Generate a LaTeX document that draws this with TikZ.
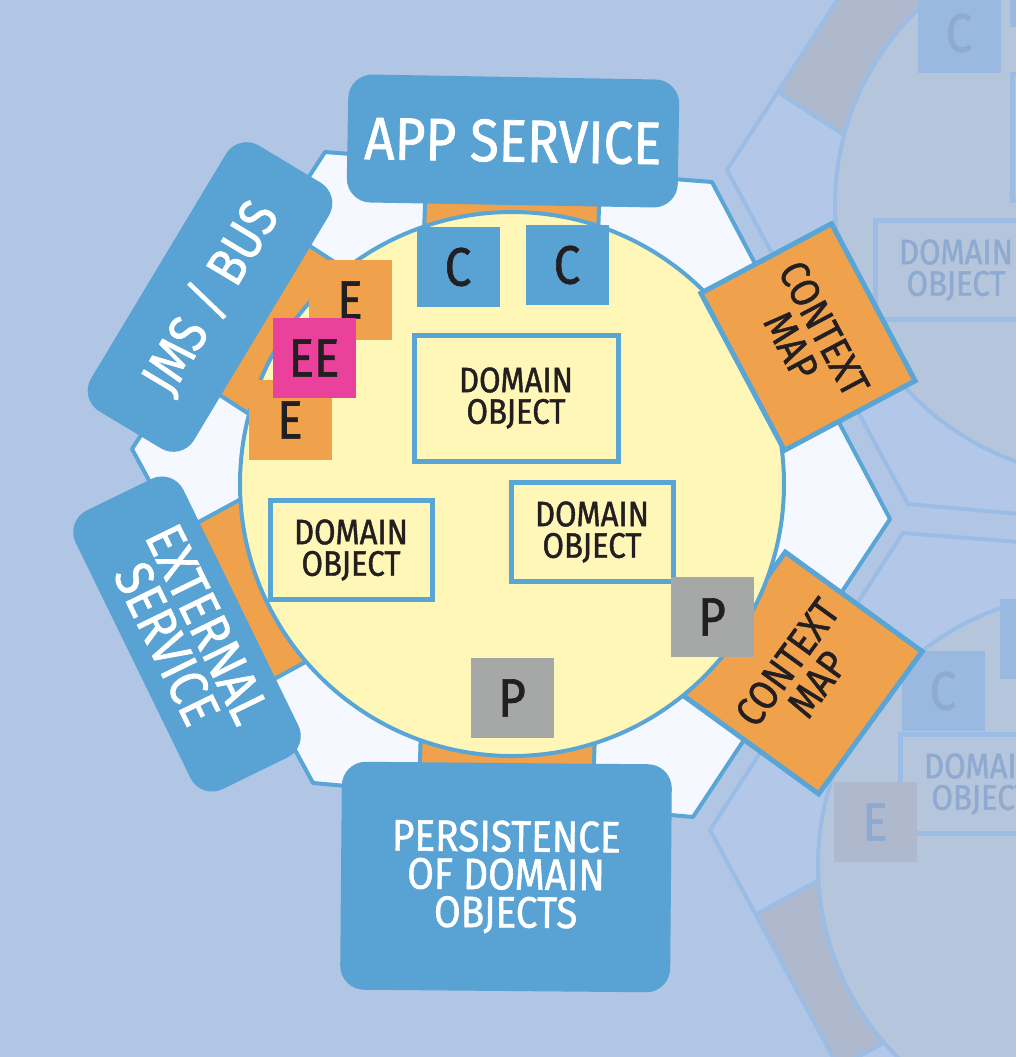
\documentclass[tikz,border=0pt]{standalone}
\usepackage{fontspec}
\setmainfont{Fira Sans}[FakeStretch=0.88, FakeBold=1.2]
\definecolor{bgblue}{HTML}{B1C6E5}
\definecolor{ghostfill}{HTML}{B3C8E8}
\definecolor{ghostline}{HTML}{9BBCE4}
\definecolor{ghostcore}{HTML}{B5C6DC}
\definecolor{ghostport}{HTML}{AEB9CD}
\definecolor{ghostcmd}{HTML}{99B9E1}
\definecolor{ghostink}{HTML}{8FAAD0}
\definecolor{hexwhite}{HTML}{F5F8FE}
\definecolor{lineblue}{HTML}{59A5D6}
\definecolor{boxblue}{HTML}{59A3D4}
\definecolor{coreyellow}{HTML}{FFF7B7}
\definecolor{portorange}{HTML}{F0A14C}
\definecolor{evtpink}{HTML}{EA419C}
\definecolor{repogray}{HTML}{A6A8A8}
\definecolor{ink}{HTML}{231F20}
\begin{document}
\begin{tikzpicture}[x=0.5pt,y=-0.5pt]
% Define styles for different elements
\tikzstyle{hexagon} = [draw=lineblue, line width=2pt, fill=hexwhite, line join=round]
\tikzstyle{core} = [circle, draw=lineblue, line width=2pt, fill=coreyellow, minimum size=272pt, inner sep=0pt]
\tikzstyle{portbox} = [rectangle, draw=lineblue, line width=2pt, fill=portorange, minimum width=87pt, minimum height=100pt, inner sep=0pt]
\tikzstyle{mapbox} = [rectangle, draw=lineblue, line width=2.5pt, fill=portorange, text=ink, align=center, inner sep=0pt, font=\fontsize{20.5pt}{18.5pt}\selectfont]
\tikzstyle{service} = [rectangle, rounded corners=12pt, fill=boxblue, text=white, align=center, inner sep=0pt]
\tikzstyle{object} = [rectangle, draw=lineblue, line width=2.5pt, fill=coreyellow, text=ink, align=center, inner sep=0pt, minimum width=81pt, minimum height=49.5pt, font=\fontsize{17.7pt}{15.75pt}\selectfont]
\tikzstyle{tag} = [rectangle, inner sep=0pt, minimum width=41.5pt, minimum height=40pt, text=ink, font=\fontsize{27pt}{27pt}\selectfont]
\tikzstyle{command} = [tag, fill=boxblue]
\tikzstyle{event} = [tag, fill=portorange]
\tikzstyle{extevent} = [tag, fill=evtpink]
\tikzstyle{repository} = [tag, fill=repogray]
\tikzstyle{ghosthex} = [fill=ghostfill]
\tikzstyle{ghostedge} = [draw=ghostline, line width=2pt, line join=round]
\tikzstyle{ghostcircle} = [circle, draw=ghostline, line width=2pt, fill=ghostcore, minimum size=272pt, inner sep=0pt]
\tikzstyle{ghostportbox} = [portbox, draw=ghostline, fill=ghostport]
\tikzstyle{ghostcommand} = [tag, fill=ghostcmd, text=ghostink]
\tikzstyle{ghostevent} = [tag, fill=ghostport, text=ghostink]
\tikzstyle{ghostobject} = [object, draw=ghostline, fill=ghostcore, text=ghostink]

% Background
\fill[bgblue] (0,0) rectangle (1016,1057);
\clip (0,0) rectangle (1016,1057);

% Neighbouring contexts (faded)
\begin{scope}[shift={(595,-279)}]
  \fill[ghosthex] (325,152) -- (712,182) -- (890,519) -- (693,817) -- (313,783) -- (132,449) -- cycle;
  \begin{scope}
    \clip (325,152) -- (712,182) -- (890,519) -- (693,817) -- (313,783) -- (132,449) -- cycle;
    \node[ghostportbox, rotate=57] (gport1) at (264,320) {};
  \end{scope}
  \draw[ghostedge] (325,152) -- (712,182) -- (890,519) -- (693,817) -- (313,783) -- (132,449) -- cycle;
  \node[ghostcircle] (gcore1) at (512,484) {};
\end{scope}
\begin{scope}[shift={(578,381)}]
  \fill[ghosthex] (325,152) -- (712,182) -- (890,519) -- (693,817) -- (313,783) -- (132,449) -- cycle;
  \begin{scope}
    \clip (325,152) -- (712,182) -- (890,519) -- (693,817) -- (313,783) -- (132,449) -- cycle;
    \node[ghostportbox, rotate=-61.5] (gport2) at (254,591) {};
  \end{scope}
  \draw[ghostedge] (325,152) -- (712,182) -- (890,519) -- (693,817) -- (313,783) -- (132,449) -- cycle;
  \node[ghostcircle] (gcore2) at (512,484) {};
\end{scope}
\node[ghostcommand] (gcmd1) at (959,33) {C};
\node[ghostcommand] (gcmd2) at (1051,-13) {};
\node[ghostobject, minimum width=102pt, minimum height=63pt] (gobj1) at (1114,137) {};
\node[ghostobject] (gobj2) at (956,270) {DOMAIN\\OBJECT};
\node[ghostcommand] (gcmd3) at (1041,639) {};
\node[ghostcommand] (gcmd4) at (943,691) {C};
\node[ghostobject] (gobj3) at (981,784) {DOMAIN\\OBJECT};
\node[ghostevent] (gevt1) at (875,822) {E};

% Bounded context
\draw[hexagon] (325,152) -- (712,182) -- (890,519) -- (693,817) -- (313,783) -- (132,449) -- cycle;
\node[portbox, rotate=-2] (appport) at (512,206) {};
\node[portbox, rotate=57] (busport) at (264,320) {};
\node[portbox, rotate=-61.5] (extport) at (254,591) {};
\node[portbox, rotate=-2] (persport) at (507,760) {};
\node[mapbox, rotate=54, minimum width=88pt, minimum height=84.5pt] (maplow) at (802,673) {CONTEXT\\MAP};
\node[core] (core) at (512,484) {};
\node[mapbox, rotate=-62, minimum width=89pt, minimum height=74pt] (mapup) at (808,337) {CONTEXT\\MAP};

% Domain model inside
\node[object, minimum width=102pt, minimum height=63pt] (objtop) at (516,398) {DOMAIN\\OBJECT};
\node[object] (objleft) at (351,550) {DOMAIN\\OBJECT};
\node[object] (objright) at (592,532) {DOMAIN\\OBJECT};
\node[command] (cmd1) at (458,267) {C};
\node[command] (cmd2) at (567,265) {C};
\node[event] (evt1) at (350,300) {E};
\node[event] (evt2) at (290,420) {E};
\node[extevent] (extevt) at (314,358) {EE};
\node[repository] (repo1) at (712,617) {P};
\node[repository] (repo2) at (512,698) {P};

% Services around the hexagon
\node[service, rotate=-1, minimum width=165.5pt, minimum height=64pt, font=\fontsize{30pt}{30pt}\selectfont] (app) at (513,141) {APP SERVICE};
\node[service, rotate=59, minimum width=155pt, minimum height=60pt, font=\fontsize{27pt}{27pt}\selectfont] (bus) at (210,297) {JMS / BUS};
\node[service, rotate=-64, minimum width=155pt, minimum height=60pt, font=\fontsize{27pt}{22.5pt}\selectfont] (ext) at (187,634) {EXTERNAL\\SERVICE};
\node[service, rotate=-0.5, minimum width=165pt, minimum height=114pt, font=\fontsize{22pt}{19pt}\selectfont] (pers) at (506,877) {PERSISTENCE\\OF DOMAIN\\OBJECTS};
\end{tikzpicture}
\end{document}
